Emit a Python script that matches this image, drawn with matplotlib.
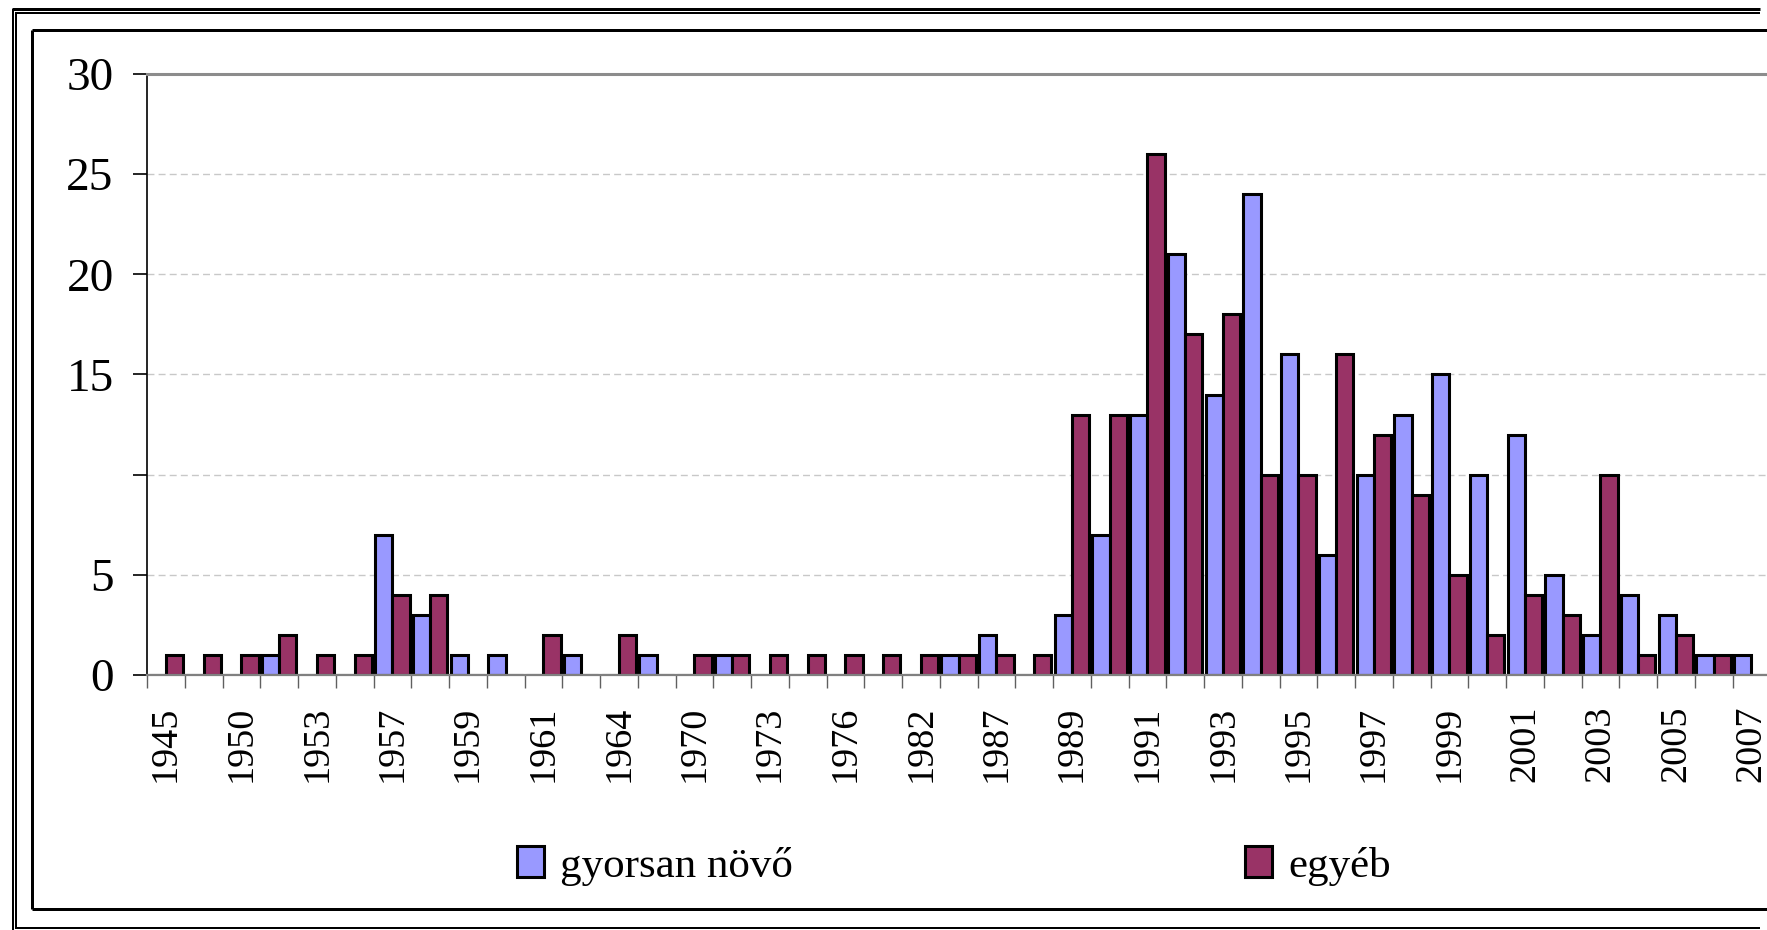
import matplotlib
matplotlib.use("Agg")
import matplotlib.pyplot as plt
from matplotlib.lines import Line2D
import numpy as np

plt.rcParams['font.family'] = ['Liberation Serif', 'DejaVu Serif']

# évek (minden második felirat látszik)
years = ["1945", "1948", "1950", "1951", "1953", "1956", "1957", "1958", "1959", "1960",
         "1961", "1962", "1964", "1968", "1970", "1971", "1973", "1974", "1976", "1980",
         "1982", "1985", "1987", "1988", "1989", "1990", "1991", "1992", "1993", "1994",
         "1995", "1996", "1997", "1998", "1999", "2000", "2001", "2002", "2003", "2004",
         "2005", "2006", "2007"]
gyorsan = [0, 0, 0, 1, 0, 0, 7, 3, 1, 1,
           0, 1, 0, 1, 0, 1, 0, 0, 0, 0,
           0, 1, 2, 0, 3, 7, 13, 21, 14, 24,
           16, 6, 10, 13, 15, 10, 12, 5, 2, 4,
           3, 1, 1]
egyeb = [1, 1, 1, 2, 1, 1, 4, 4, 0, 0,
         2, 0, 2, 0, 1, 1, 1, 1, 1, 1,
         1, 1, 1, 1, 13, 13, 26, 17, 18, 10,
         10, 16, 12, 9, 5, 2, 4, 3, 10, 1,
         2, 1, 0]
y_ticks = [0, 5, 10, 15, 20, 25, 30]
y_labels = ["0", "5", "", "15", "20", "25", "30"]
series_names = ["gyorsan növő", "egyéb"]
colors = ["#9999FF", "#993366"]

W, H = 1767, 930
fig = plt.figure(figsize=(W / 100, H / 100), dpi=100)


def fx(px):
    return px / W


def fy(py):
    return 1 - py / H


# keret
frame = [
    ((12, 1760), (9, 9), 3.0),
    ((15, 1760), (13, 13), 2.0),
    ((12.5, 12.5), (9, 930), 2.0),
    ((15.5, 15.5), (13, 928), 2.0),
    ((15, 1760), (928, 928), 2.0),
    ((32, 1767), (30, 30), 3.0),
    ((32, 32), (30, 909), 3.0),
    ((32, 1767), (909, 909), 3.0),
]
for xs, ys, lw in frame:
    fig.add_artist(Line2D([fx(xs[0]), fx(xs[1])], [fy(ys[0]), fy(ys[1])],
                          color="black", lw=lw * 0.72, solid_capstyle="butt"))

n = len(years)
x = np.arange(n)
w = 0.46

ax = fig.add_axes([fx(147), fy(675), 44 * 37.75 / W, (675 - 74) / H])
b1 = ax.bar(x - w / 2, gyorsan, w, color=colors[0], edgecolor="black", linewidth=2.2,
            label=series_names[0])
b2 = ax.bar(x + w / 2, egyeb, w, color=colors[1], edgecolor="black", linewidth=2.2,
            label=series_names[1])

ax.set_xlim(-0.5, 43.5)
ax.set_ylim(0, 30)
ax.set_axisbelow(True)

ax.set_yticks(y_ticks)
ax.set_yticklabels(y_labels, fontsize=34)
ax.tick_params(axis="y", length=10, width=1.2, pad=14, color="black")
ax.yaxis.grid(True, color="#c8c8c8", linestyle=(0, (5, 3)), linewidth=1)

ax.set_xticks(x[::2])
ax.set_xticklabels(years[::2], rotation=90, fontsize=27.5)
ax.tick_params(axis="x", which="major", length=0, pad=22)
ax.set_xticks(np.arange(-0.5, 43.6, 1), minor=True)
ax.tick_params(axis="x", which="minor", length=9, width=1, color="#606060")

ax.spines["left"].set_color("black")
ax.spines["left"].set_linewidth(1.2)
ax.spines["bottom"].set_color("#808080")
ax.spines["bottom"].set_linewidth(1.6)
ax.spines["top"].set_color("#8c8c8c")
ax.spines["top"].set_linewidth(2.2)
ax.spines["right"].set_visible(False)

fig.legend(handles=[b1, b2], loc="center left", bbox_to_anchor=(fx(517), fy(866)),
           ncol=2, frameon=False, fontsize=31, handlelength=0.63, handleheight=0.74,
           handletextpad=0.37, columnspacing=10.5, borderpad=0, borderaxespad=0)

fig.savefig("out.png", dpi=100)
